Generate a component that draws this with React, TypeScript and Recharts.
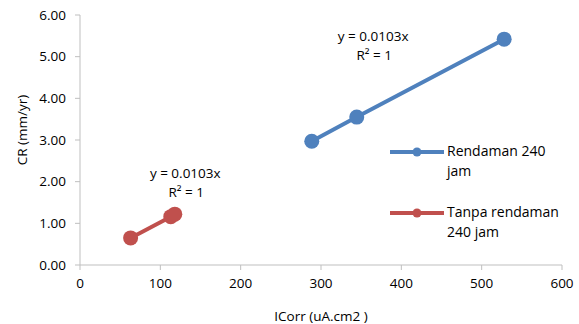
import {
  ScatterChart,
  Scatter,
  XAxis,
  YAxis,
  ReferenceDot,
} from 'recharts';

// ICorr (uA.cm2) vs CR (mm/yr)
const rendamanX = [288.5, 344.5, 528];
const rendamanY = [2.97, 3.55, 5.42];
const tanpaX = [63, 113, 118];
const tanpaY = [0.65, 1.16, 1.22];

const xTicks = [0, 100, 200, 300, 400, 500, 600];
const yTicks = [0, 1, 2, 3, 4, 5, 6];

const seriesNames = ['Rendaman 240 jam', 'Tanpa rendaman 240 jam'];
const trendText = ['y = 0.0103x', 'R² = 1'];

const BLUE = '#4f81bd';
const RED = '#c0504d';
const FONT = 'Open Sans, sans-serif';

const rendaman = rendamanX.map((x, i) => ({ x, y: rendamanY[i] }));
const tanpa = tanpaX.map((x, i) => ({ x, y: tanpaY[i] }));

const Dot = (color: string) => (props: any) => (
  <circle cx={props.cx} cy={props.cy} r={7.5} fill={color} />
);

const TrendLabel = (props: any) => {
  const { viewBox } = props;
  const cx = viewBox.x + (viewBox.width || 0) / 2;
  const cy = viewBox.y + (viewBox.height || 0) / 2;
  return (
    <text textAnchor='middle' fontFamily={FONT} fontSize={13.5} fill='#000'>
      <tspan x={cx} y={cy + 4}>{trendText[0]}</tspan>
      <tspan x={cx + 1} y={cy + 23}>{trendText[1]}</tspan>
    </text>
  );
};

const YTitle = () => (
  <text x={22} y={130} transform='rotate(-90 22 130)' textAnchor='middle' dominantBaseline='central' fontFamily={FONT} fontSize={13.5} fill='#000'>
    CR (mm/yr)
  </text>
);

const LegendBox = () => {
  const items = [
    { color: BLUE, lines: ['Rendaman 240', 'jam'] },
    { color: RED, lines: ['Tanpa rendaman', '240 jam'] },
  ];
  return (
    <div style={{ position: 'absolute', left: 389, top: 141, width: 190, fontFamily: FONT, fontSize: 14, color: '#000' }}>
      {items.map((it, i) => (
        <div key={i} style={{ display: 'flex', alignItems: 'flex-start', marginBottom: i === 0 ? 21 : 0 }} title={seriesNames[i]}>
          <svg width={56} height={20} style={{ flex: 'none' }}>
            <line x1={1} y1={11} x2={55} y2={11} stroke={it.color} strokeWidth={4} />
            <circle cx={28} cy={11} r={4.5} fill={it.color} />
          </svg>
          <div style={{ lineHeight: '20px', marginLeft: 2 }}>
            {it.lines[0]}
            <br />
            {it.lines[1]}
          </div>
        </div>
      ))}
    </div>
  );
};

export default function App() {
  return (
    <div style={{ position: 'absolute', left: 0, top: 0, width: 579, height: 324, background: '#fff' }}>
      <ScatterChart width={579} height={324} margin={{ top: 15, right: 17, bottom: 0, left: 0 }}>
        <XAxis
          type='number'
          dataKey='x'
          domain={[0, 600]}
          ticks={xTicks}
          height={59}
          stroke='#bfbfbf'
          tickSize={5}
          tickMargin={8}
          tick={{ fontSize: 13.5, fill: '#000', fontFamily: FONT }}
          label={{ value: 'ICorr (uA.cm2 )', position: 'insideBottom', offset: 3, fontSize: 13.5, fill: '#000', fontFamily: FONT }}
        />
        <YAxis
          type='number'
          dataKey='y'
          domain={[0, 6]}
          ticks={yTicks}
          width={80}
          stroke='#bfbfbf'
          tickSize={5}
          tickMargin={9}
          tickFormatter={(v: number) => v.toFixed(2)}
          tick={{ fontSize: 13.5, fill: '#000', fontFamily: FONT }}
          label={<YTitle />}
        />
        <Scatter
          name={seriesNames[0]}
          data={rendaman}
          fill={BLUE}
          line={{ stroke: BLUE, strokeWidth: 4 }}
          shape={Dot(BLUE)}
          isAnimationActive={false}
        />
        <Scatter
          name={seriesNames[1]}
          data={tanpa}
          fill={RED}
          line={{ stroke: RED, strokeWidth: 4 }}
          shape={Dot(RED)}
          isAnimationActive={false}
        />
        <ReferenceDot x={365} y={5.47} r={0} fill='none' stroke='none' label={<TrendLabel />} />
        <ReferenceDot x={131} y={2.18} r={0} fill='none' stroke='none' label={<TrendLabel />} />
      </ScatterChart>
      <LegendBox />
    </div>
  );
}
